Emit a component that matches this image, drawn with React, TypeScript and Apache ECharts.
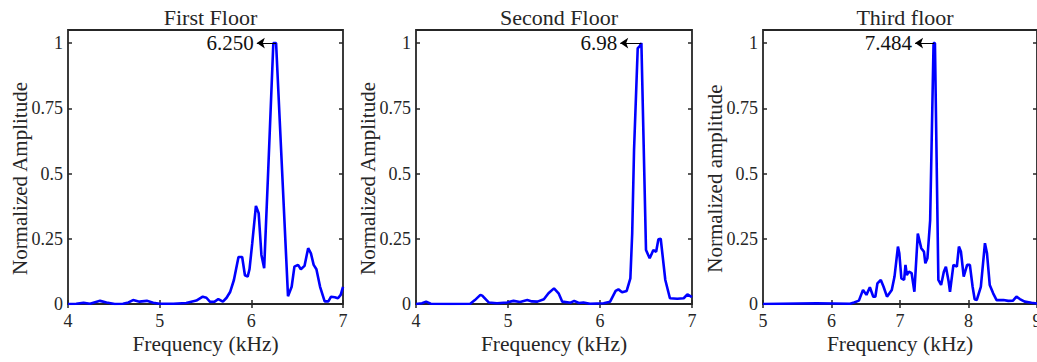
import React, { useEffect, useRef } from "react";
import * as echarts from "echarts";

// ---------- data ----------
const titles = ["First Floor", "Second Floor", "Third floor"];
const yNames = ["Normalized Amplitude", "Normalized Amplitude", "Normalized amplitude"];
const xName = "Frequency (kHz)";

const xMins = [4, 4, 5];
const xMaxs = [7, 7, 9];
const xTickLabels = [["4", "5", "6", "7"], ["4", "5", "6", "7"], ["5", "6", "7", "8", "9"]];
const yTicks = [0, 0.25, 0.5, 0.75, 1];
const yTickLabels = ["0", "0.25", "0.5", "0.75", "1"];

const fx1 = [4.0, 4.09, 4.17, 4.24, 4.35, 4.42, 4.51, 4.6, 4.66, 4.71, 4.78, 4.86, 4.93, 5.0, 5.15, 5.29, 5.4, 5.47, 5.51, 5.55, 5.6, 5.64, 5.69, 5.73, 5.77, 5.81, 5.86, 5.9, 5.93, 5.96, 5.98, 6.01, 6.05, 6.08, 6.11, 6.14, 6.18, 6.24, 6.27, 6.4, 6.44, 6.47, 6.51, 6.54, 6.58, 6.62, 6.65, 6.68, 6.71, 6.75, 6.8, 6.84, 6.87, 6.91, 6.945, 6.975, 7.0];
const fy1 = [0, 0.001, 0.005, 0.001, 0.012, 0.006, 0, 0.001, 0.006, 0.015, 0.009, 0.012, 0.005, 0.001, 0.001, 0.004, 0.013, 0.028, 0.024, 0.008, 0.009, 0.019, 0.009, 0.024, 0.047, 0.092, 0.18, 0.18, 0.11, 0.105, 0.133, 0.233, 0.376, 0.348, 0.188, 0.137, 0.476, 1.0, 1.0, 0.03, 0.066, 0.143, 0.15, 0.133, 0.146, 0.214, 0.194, 0.15, 0.133, 0.066, 0.01, 0.01, 0.028, 0.026, 0.022, 0.035, 0.066];

const fx2 = [4.0, 4.065, 4.11, 4.16, 4.37, 4.59, 4.64, 4.7, 4.72, 4.79, 4.88, 4.99, 5.06, 5.13, 5.21, 5.26, 5.32, 5.39, 5.44, 5.5, 5.55, 5.59, 5.68, 5.72, 5.77, 5.82, 5.89, 6.04, 6.11, 6.17, 6.2, 6.24, 6.29, 6.33, 6.35, 6.37, 6.41, 6.43, 6.45, 6.5, 6.54, 6.58, 6.61, 6.635, 6.66, 6.71, 6.76, 6.84, 6.91, 6.95, 7.0];
const fy2 = [0, 0.003, 0.009, 0.001, 0, 0.001, 0.015, 0.035, 0.032, 0.006, 0.003, 0.006, 0.012, 0.008, 0.015, 0.01, 0.009, 0.018, 0.041, 0.06, 0.041, 0.009, 0.005, 0.012, 0.004, 0.006, 0.001, 0.003, 0.009, 0.05, 0.056, 0.045, 0.05, 0.098, 0.27, 0.59, 0.98, 0.987, 1.0, 0.207, 0.175, 0.207, 0.2, 0.248, 0.25, 0.092, 0.022, 0.02, 0.022, 0.037, 0.026];

const fx3 = [5.0, 5.78, 6.27, 6.33, 6.4, 6.46, 6.51, 6.56, 6.61, 6.64, 6.67, 6.72, 6.76, 6.81, 6.88, 6.92, 6.97, 6.99, 7.02, 7.06, 7.08, 7.1, 7.13, 7.17, 7.21, 7.26, 7.31, 7.35, 7.37, 7.4, 7.44, 7.49, 7.51, 7.56, 7.6, 7.64, 7.67, 7.71, 7.73, 7.78, 7.83, 7.86, 7.89, 7.93, 7.98, 8.02, 8.06, 8.09, 8.12, 8.18, 8.24, 8.27, 8.31, 8.36, 8.41, 8.51, 8.58, 8.65, 8.7, 8.75, 8.82, 8.92, 9.0];
const fy3 = [0, 0.003, 0.001, 0.006, 0.013, 0.054, 0.035, 0.064, 0.028, 0.028, 0.079, 0.092, 0.066, 0.028, 0.054, 0.105, 0.22, 0.194, 0.098, 0.092, 0.15, 0.111, 0.124, 0.118, 0.047, 0.27, 0.214, 0.2, 0.156, 0.175, 0.32, 1.0, 1.0, 0.092, 0.073, 0.124, 0.143, 0.086, 0.047, 0.15, 0.143, 0.22, 0.2, 0.105, 0.15, 0.15, 0.066, 0.018, 0.015, 0.066, 0.233, 0.194, 0.073, 0.041, 0.015, 0.015, 0.012, 0.013, 0.028, 0.019, 0.009, 0.005, 0.002];

const peakX = [6.27, 6.45, 7.5];
const peakLabels = ["6.250", "6.98", "7.484"];
const arrowEndX = [6.06, 6.22, 7.22];

const freqs = [fx1, fx2, fx3];
const amps = [fy1, fy2, fy3];

// ---------- layout / style ----------
const FONT = "Liberation Serif";
const INK = "#262626";
const grids = [
  { left: 68, top: 30, width: 275, height: 274 },
  { left: 416, top: 30, width: 276, height: 274 },
  { left: 763, top: 30, width: 274, height: 274 },
];
const CSS = `#serif-chart svg text { font-family: "Liberation Serif", "Times New Roman", serif !important; }`;

export default function App() {
  const ref = useRef<HTMLDivElement>(null);
  useEffect(() => {
    if (!ref.current) return;
    const chart = echarts.init(ref.current, undefined, { renderer: "svg" });

    const xAxes: any[] = [];
    const yAxes: any[] = [];
    const series: any[] = [];
    const titleArr: any[] = [];

    grids.forEach((g, i) => {
      titleArr.push({
        text: titles[i],
        left: g.left + g.width / 2,
        top: 1,
        textAlign: "center",
        textStyle: { fontFamily: FONT, fontSize: 22, fontWeight: "normal", color: INK },
      });
      const tick = { show: true, inside: true, length: 4, lineStyle: { color: INK, width: 1.5 } };
      xAxes.push({
        type: "value", gridIndex: i, position: "bottom",
        min: xMins[i], max: xMaxs[i], interval: 1,
        axisLine: { show: false }, axisTick: tick, splitLine: { show: false },
        axisLabel: { show: false },
      });
      xAxes.push({
        type: "value", gridIndex: i, position: "top",
        min: xMins[i], max: xMaxs[i], interval: 1,
        axisLine: { show: false }, axisTick: tick, splitLine: { show: false },
        axisLabel: { show: false },
      });
      yAxes.push({
        type: "value", gridIndex: i, position: "left",
        min: 0, max: 1.05, interval: 0.25,
        axisLine: { show: false }, axisTick: tick, splitLine: { show: false },
        axisLabel: { show: false },
      });
      yAxes.push({
        type: "value", gridIndex: i, position: "right",
        min: 0, max: 1.05, interval: 0.25,
        axisLine: { show: false }, axisTick: tick, splitLine: { show: false },
        axisLabel: { show: false },
      });
      series.push({
        type: "line",
        xAxisIndex: i * 2,
        yAxisIndex: i * 2,
        data: freqs[i].map((f, k) => [f, amps[i][k]]),
        showSymbol: false,
        symbol: "none",
        lineStyle: { color: "#0000ff", width: 2.6 },
        z: 3,
        markLine: {
          silent: true,
          symbol: ["none", "arrow"],
          symbolSize: 8,
          label: { show: false },
          lineStyle: { color: "#000", width: 1, type: "solid" },
          data: [[{ coord: [peakX[i], 1] }, { coord: [arrowEndX[i], 1] }]],
        },
        markPoint: {
          silent: true,
          symbol: "circle",
          symbolSize: 0,
          data: [{ coord: [arrowEndX[i], 1], value: peakLabels[i] }],
          label: {
            show: true,
            position: "left",
            distance: 3,
            formatter: peakLabels[i],
            fontFamily: FONT, fontSize: 21, color: "#111",
          },
        },
      });
    });

    chart.setOption({
      animation: false,
      backgroundColor: "#ffffff",
      textStyle: { fontFamily: FONT },
      title: titleArr,
      grid: grids.map((g) => ({ ...g, show: true, borderColor: INK, borderWidth: 1.8, backgroundColor: "transparent" })),
      xAxis: xAxes,
      yAxis: yAxes,
      series,
    });

    // axis texts, placed through the axes' own scales
    const texts: any[] = [];
    grids.forEach((g, i) => {
      const xi = i * 2;
      const yi = i * 2;
      const y0 = chart.convertToPixel({ yAxisIndex: yi }, 0) as number;
      const y1 = chart.convertToPixel({ yAxisIndex: yi }, 1) as number;
      const xa = chart.convertToPixel({ xAxisIndex: xi }, xMins[i]) as number;
      const xb = chart.convertToPixel({ xAxisIndex: xi }, xMaxs[i]) as number;
      xTickLabels[i].forEach((lab) => {
        const px = chart.convertToPixel({ xAxisIndex: xi }, Number(lab)) as number;
        texts.push({
          type: "text", x: px, y: y0 + 17, silent: true,
          style: { text: lab, fontFamily: FONT, fontSize: 18, fill: INK, align: "center", verticalAlign: "middle" },
        });
      });
      yTicks.forEach((v, k) => {
        const py = chart.convertToPixel({ yAxisIndex: yi }, v) as number;
        texts.push({
          type: "text", x: xa - 5, y: py, silent: true,
          style: { text: yTickLabels[k], fontFamily: FONT, fontSize: 18, fill: INK, align: "right", verticalAlign: "middle" },
        });
      });
      texts.push({
        type: "text", x: (xa + xb) / 2, y: y0 + 40, silent: true,
        style: { text: xName, fontFamily: FONT, fontSize: 21.5, fill: INK, align: "center", verticalAlign: "middle" },
      });
      texts.push({
        type: "text", x: xa - 48, y: (y0 + y1) / 2 + 5, rotation: Math.PI / 2, silent: true,
        style: { text: yNames[i], fontFamily: FONT, fontSize: 21, fill: INK, align: "center", verticalAlign: "middle" },
      });
    });
    chart.setOption({ graphic: texts });

    return () => chart.dispose();
  }, []);
  return (
    <>
      <style>{CSS}</style>
      <div
        id="serif-chart"
        ref={ref}
        style={{ position: "absolute", left: 0, top: 0, width: 1037, height: 362 }}
      />
    </>
  );
}
